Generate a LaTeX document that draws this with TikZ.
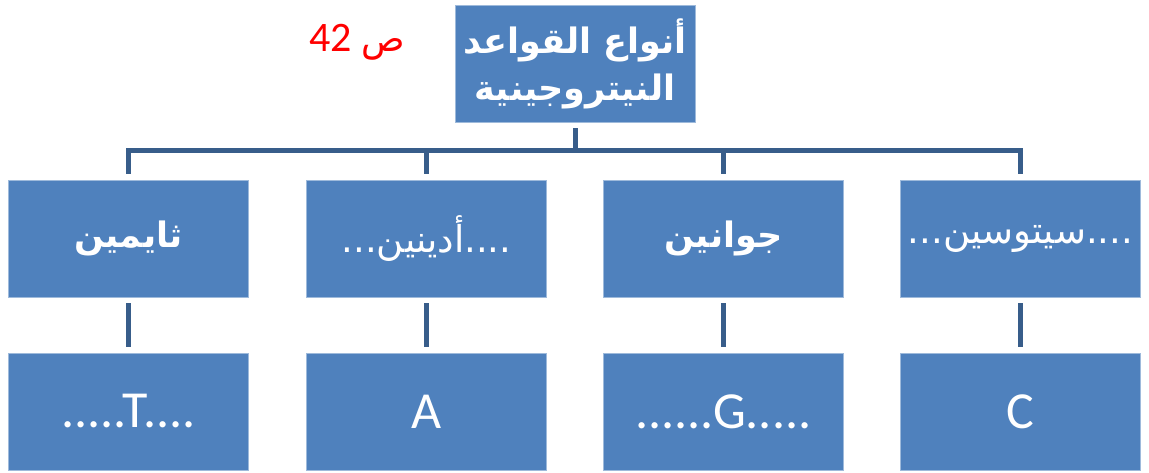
\documentclass[tikz,border=0pt]{standalone}
\usepackage{fontspec}
\setmainfont{Carlito}
\newfontfamily\arabicfont[Script=Arabic]{DejaVu Sans}
\TeXXeTstate=1
\definecolor{boxblue}{RGB}{79,129,189}
\definecolor{linkblue}{RGB}{56,93,138}

\begin{document}
\begin{tikzpicture}[x=1pt, y=-1pt]
    \tikzstyle{base_box} = [rectangle, fill=boxblue, draw=boxblue!55!white, line width=0.8pt, minimum width=240pt, minimum height=117pt, inner sep=0pt, text=white]
    \tikzstyle{arabic_bold} = [font=\arabicfont\bfseries\fontsize{35}{40}\selectfont]
    \tikzstyle{arabic_thin} = [font=\arabicfont\fontsize{37}{40}\selectfont]
    \tikzstyle{letter_text} = [font=\fontsize{52}{56}\selectfont]
    \tikzstyle{link_style} = [draw=linkblue, line width=5pt]
    \useasboundingbox (0,0) rectangle (1149,473);

    \node[base_box, align=center, font=\arabicfont\bfseries\fontsize{35}{47}\selectfont] (root) at (575,63.5)
        {\beginR أنواع القواعد\endR\\\beginR النيتروجينية\endR};
    \node[text=red, font=\fontsize{42}{46}\selectfont] (page) at (357,42)
        {\beginR{\arabicfont\fontsize{36}{40}\selectfont ص} \beginL 42\endL\endR};

    \node[base_box, arabic_bold] (thymine) at (128.5,238.5) {\beginR ثايمين\endR};
    \node[base_box, arabic_thin] (adenine) at (426.5,238.5) {\beginR ....أدينين...\endR};
    \node[base_box, arabic_bold] (guanine) at (723.5,238.5) {\beginR جوانين\endR};
    \node[base_box, arabic_thin] (cytosine) at (1020.5,238.5) {\beginR ....سيتوسين...\endR};

    \node[base_box, letter_text] (t) at (128.5,411.5) {.....T....};
    \node[base_box, letter_text] (a) at (426.5,411.5) {A};
    \node[base_box, letter_text] (g) at (723.5,411.5) {......G.....};
    \node[base_box, letter_text] (c) at (1020.5,411.5) {C};

    \coordinate (bus) at (575,151);
    \draw[link_style, shorten <=6pt] (root.south) -- (root.south |- bus);
    \draw[link_style, shorten <=6pt, shorten >=6pt] (thymine.north) -- (thymine.north |- bus) -- (cytosine.north |- bus) -- (cytosine.north);
    \draw[link_style, shorten >=6pt] (adenine.north |- bus) -- (adenine.north);
    \draw[link_style, shorten >=6pt] (guanine.north |- bus) -- (guanine.north);

    \draw[link_style, shorten <=6pt, shorten >=6pt] (thymine) -- (t);
    \draw[link_style, shorten <=6pt, shorten >=6pt] (adenine) -- (a);
    \draw[link_style, shorten <=6pt, shorten >=6pt] (guanine) -- (g);
    \draw[link_style, shorten <=6pt, shorten >=6pt] (cytosine) -- (c);
\end{tikzpicture}
\end{document}
